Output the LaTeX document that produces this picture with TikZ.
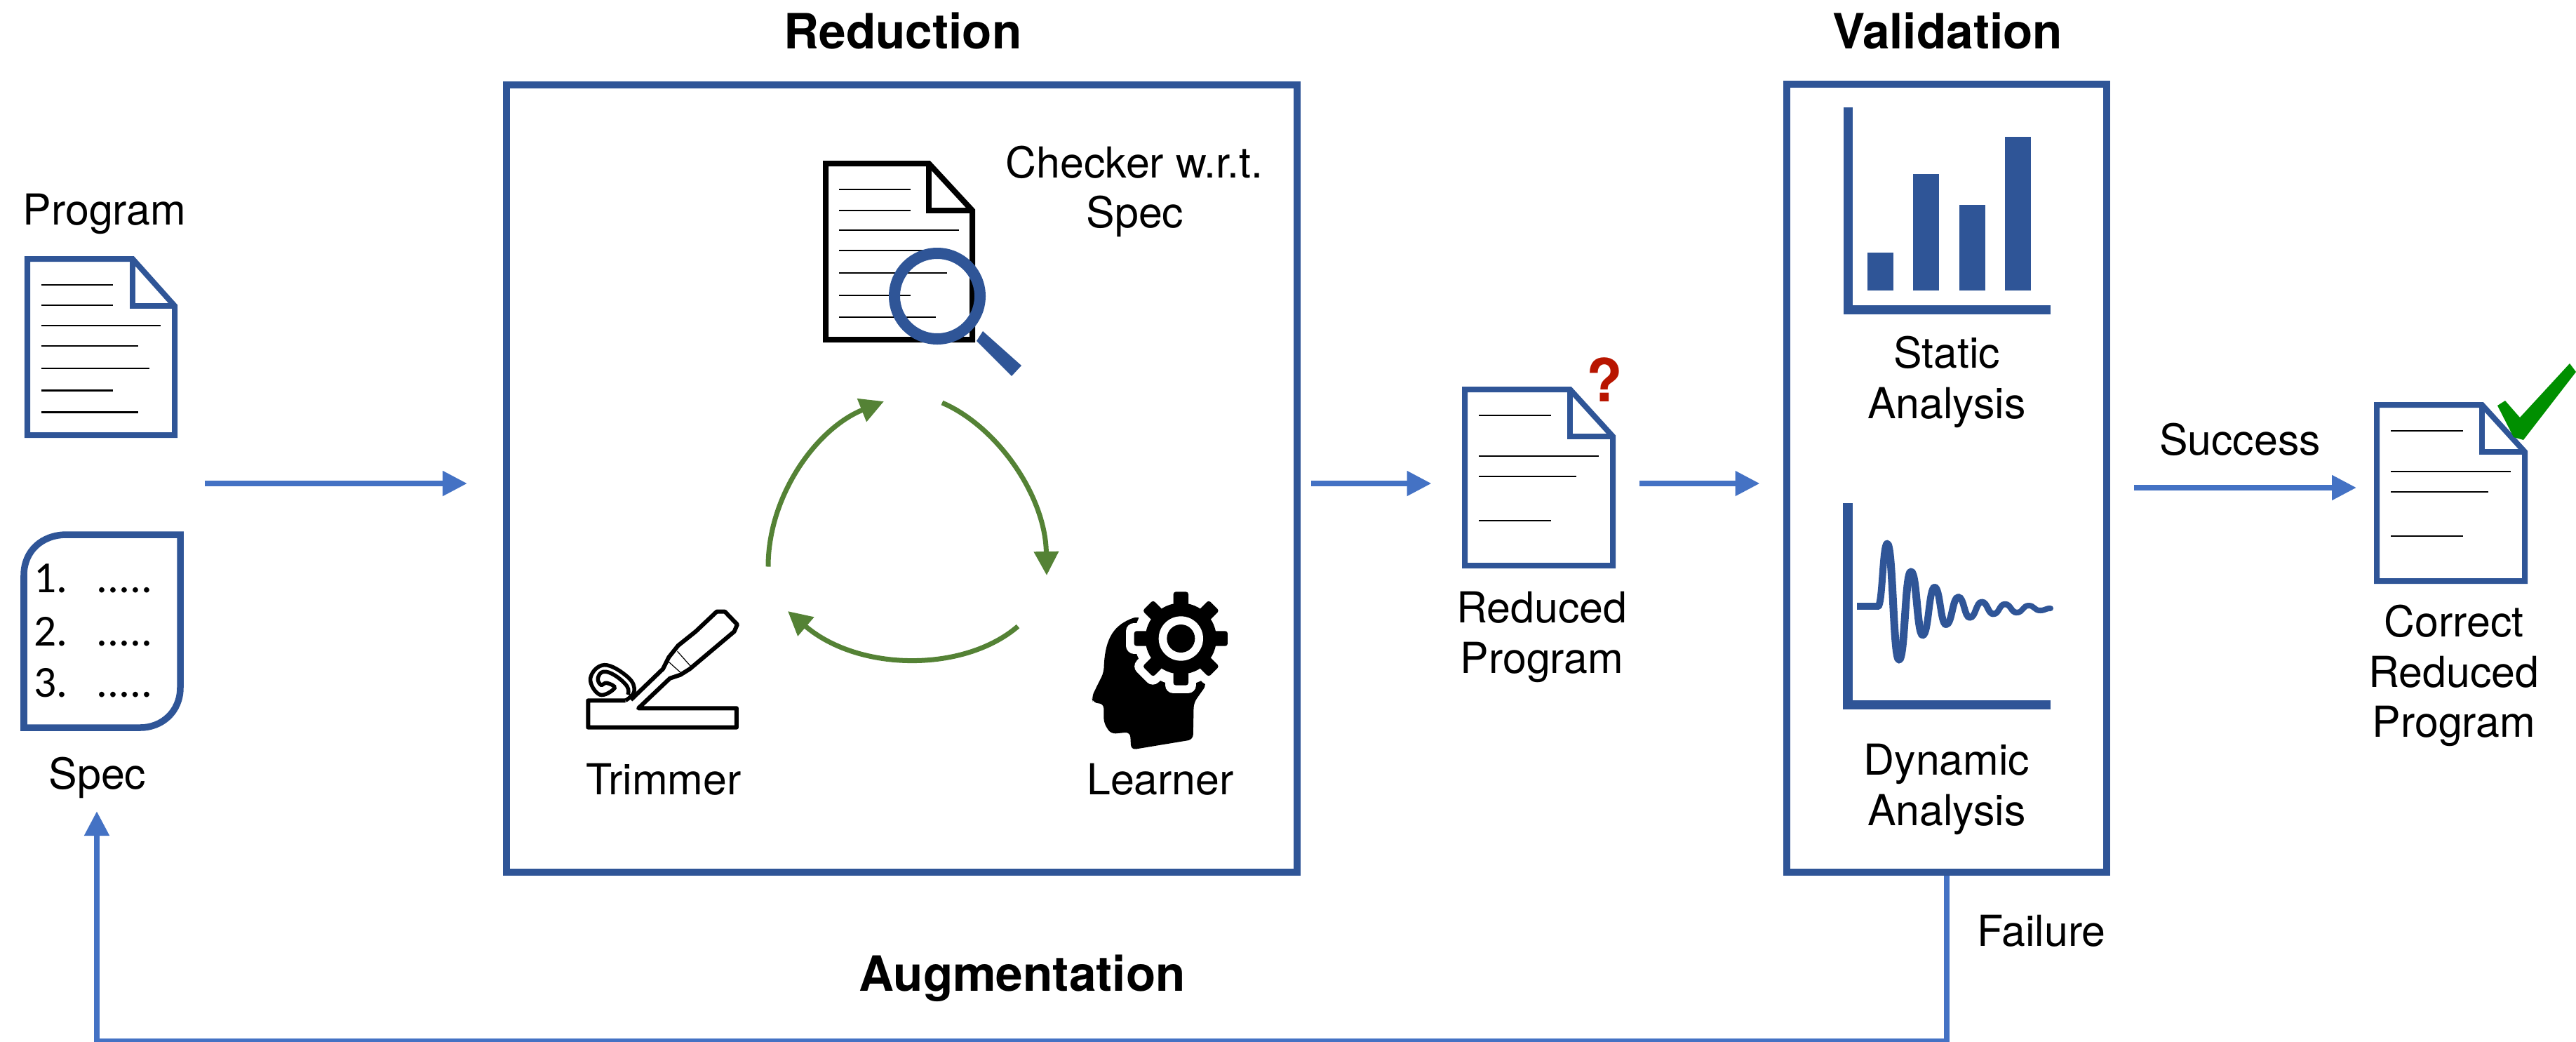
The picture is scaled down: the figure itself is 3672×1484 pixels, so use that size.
\documentclass[tikz,border=0pt]{standalone}
\usepackage{fontspec}
\setmainfont{TeX Gyre Heros}
\newfontfamily\listfont{Carlito}
\usetikzlibrary{arrows.meta}
\definecolor{docblue}{HTML}{2F5597}
\definecolor{flowblue}{HTML}{4472C4}
\definecolor{loopgreen}{HTML}{548235}
\definecolor{checkgreen}{HTML}{008F00}
\definecolor{askred}{HTML}{B81500}
\tikzset{
  label/.style={anchor=base,align=center,inner sep=0pt,yshift=-.02cm,font=\fontsize{17.3}{20.4}\selectfont},
  title/.style={anchor=base,inner sep=0pt,font=\fontsize{19.7}{23}\selectfont\bfseries},
  framebox/.style={draw=docblue,line width=.1cm,inner sep=0pt},
  flow/.style={flowblue,line width=.08cm,-{Triangle[length=.35cm,width=.34cm]}},
  loop/.style={loopgreen,line width=.07cm,-{Triangle[length=.34cm,width=.34cm]}},
  textline/.style={black,line width=.022cm},
  listitem/.style={anchor=base west,inner sep=0pt,font=\listfont\fontsize{18}{20}\selectfont},
}
% page with folded corner: colour, left, top, right, bottom, fold x, fold y
\newcommand{\docpage}[7]{
  \draw[#1,line width=.08cm] (#2,#3) -- (#6,#3) -- (#4,#7) -- (#4,#5) -- (#2,#5) -- cycle;
  \draw[#1,line width=.08cm] (#6,#3) -- (#6,#7) -- (#4,#7);
}
\begin{document}
\begin{tikzpicture}[x=.01cm,y=-.01cm]
\useasboundingbox (0,0) rectangle (3672,1484);

% inputs
\node[label] (program) at (149,318) {Program};
\docpage{docblue}{39}{369}{249}{620}{189}{436}
\foreach \yy/\xx in {406/161,435/161,464/229,493/197,525/213,556.5/161,587.5/197}
  \draw[textline] (58.5,\yy) -- (\xx,\yy);
\draw[docblue,line width=.095cm] (34,1037) -- (34,820) .. controls (34,785) and (60,762) .. (95,762) -- (257,762) -- (257,980) .. controls (257,1015) and (230,1037) .. (200,1037) -- cycle;
\foreach \i/\yy in {1/844,2/920.5,3/993} {
  \node[listitem] (num\i) at (48,\yy) {\i.};
  \node[listitem] (dots\i) at (137,\yy) {.....};
}
\node[label] (spec) at (139,1122.5) {Spec};
\coordinate (inputstart) at (291.5,689);
\coordinate (inputend) at (666,689);
\draw[flow] (inputstart) -- (inputend);

% reduction
\node[title] (reductiontitle) at (1287,69) {Reduction};
\node[framebox,minimum width=11.27cm,minimum height=11.22cm] (reduction) at (1285.5,682) {};
\docpage{black}{1177}{233}{1386}{484}{1324}{300}
\foreach \yy/\xx in {270/1298,300/1298,328/1367,357/1320,389/1350,421/1298,452/1334}
  \draw[textline] (1196,\yy) -- (\xx,\yy);
\draw[docblue,line width=.16cm] (1336,422) circle (61);
\fill[docblue] (1401,472) -- (1456,521) -- (1442,536) -- (1392,486) -- cycle;
\node[label] (checker) at (1617,251) {Checker w.r.t.};
\node[label] (checkerspec) at (1618,322) {Spec};
\coordinate (loopa) at (1095,807.5);
\coordinate (loopb) at (1260,572);
\coordinate (loopc) at (1343,574);
\coordinate (loopd) at (1492,820);
\coordinate (loope) at (1451,892.6);
\coordinate (loopf) at (1123,871);
\draw[loop] (loopa) .. controls (1095,705) and (1165,610) .. (loopb);
\draw[loop] (loopc) .. controls (1420,607) and (1490,705) .. (loopd);
\draw[loop] (loope) .. controls (1375,958) and (1225,958) .. (loopf);

% trimmer icon
\begin{scope}[shift={(820,850)},scale=.3333]
\draw[black,line width=.06cm,line join=round] (215,445) -- (55,445) -- (55,560) -- (690,560) -- (690,478) -- (270,478) -- (405,350) -- (450,335) -- (490,310) -- (680,150) -- (693,120) -- (640,65) -- (605,65) -- (515,150) -- (440,210) -- (400,260) -- (375,310) -- (238,442);
\draw[black,line width=.055cm] plot[smooth,tension=.7] coordinates {(215,445) (252,405) (225,345) (125,293) (65,350) (105,420) (168,392) (135,370) (110,378) (97,350) (120,322) (170,338) (222,385) (225,420)};
\draw[black,line width=.012cm] (437,235) -- (495,300) (400,280) -- (450,325);
\end{scope}
\node[label] (trimmer) at (946,1130) {Trimmer};

% learner icon
\begin{scope}[shift={(1540,830)},scale=.3333]
\fill[black,rounded corners=2pt] (245,145) .. controls (150,180) and (105,230) .. (100,385) -- (48,490) -- (55,516) -- (100,518) -- (100,600) -- (130,648) -- (213,640) -- (217,716) -- (482,672) -- (485,515) -- (540,437) -- (430,240) -- cycle;
\foreach \aa in {0,45,...,315}
  \draw[white,line width=.23cm,line join=round,fill=white,rotate around={\aa:(430,240)}] (400,100) -- (400,40) -- (462,40) -- (462,100) -- cycle;
\fill[white] (430,240) circle (200);
\foreach \aa in {0,45,...,315}
  \fill[black,rounded corners=1pt,rotate around={\aa:(430,240)}] (398,100) -- (398,40) -- (462,40) -- (462,100) -- cycle;
\fill[black] (430,240) circle (152);
\fill[white] (430,240) circle (95);
\fill[black] (430,240) circle (60);
\end{scope}
\node[label] (learner) at (1654,1130) {Learner};

% reduced program
\docpage{docblue}{2088}{555}{2299}{806}{2238}{622}
\foreach \yy/\xx in {592/2211,650/2279,679/2247,742/2211}
  \draw[textline] (2108,\yy) -- (\xx,\yy);
\node[anchor=base,inner sep=0pt,text=askred,font=\fontsize{24}{26}\selectfont\bfseries] (askmark) at (2287,572) {?};
\node[label] (reducedone) at (2198,885) {Reduced};
\node[label] (reducedtwo) at (2198,957) {Program};
\coordinate (reducedstart) at (1869,689);
\coordinate (reducedend) at (2040.5,689);
\coordinate (validatestart) at (2337,689);
\coordinate (validateend) at (2508.5,689);
\draw[flow] (reducedstart) -- (reducedend);
\draw[flow] (validatestart) -- (validateend);

% validation
\node[title] (validationtitle) at (2776,69) {Validation};
\node[framebox,minimum width=4.56cm,minimum height=11.225cm] (validation) at (2775,681.75) {};
\fill[docblue] (2628,153) rectangle (2641,448);
\fill[docblue] (2628,434.5) rectangle (2923,448);
\foreach \xx/\yy in {2662/360,2727/248,2793/292,2858/194.5}
  \fill[docblue] (\xx,413.5) rectangle (\xx+37,\yy);
\node[label] (staticone) at (2775,522) {Static};
\node[label] (statictwo) at (2775,594.5) {Analysis};
\fill[docblue] (2627,717) rectangle (2640.5,1010.5);
\fill[docblue] (2627,998) rectangle (2923,1010.5);
\draw[docblue,line width=.1cm] (2647,863.6) -- (2679,863.6);
\foreach \xa/\ya/\xb/\yb/\ww in {2677/864/2690/775/.1,2690/775/2707/940/.11,2707/940/2724/815/.11,2724/815/2741/905/.11,2741/905/2757.7/837/.1,2757.7/837/2774/890/.1,2774/890/2791.7/851/.1,2791.7/851/2808/880/.095,2808/880/2825/858/.09,2825/858/2841.7/875/.09,2841.7/875/2858/861/.085,2858/861/2875/873/.085,2875/873/2891.7/863/.08,2891.7/863/2908/870/.08,2908/870/2923/867/.08}
  \draw[docblue,line width=\ww cm,line cap=round] (\xa,\ya) .. controls ({(\xa+\xb)/2},\ya) and ({(\xa+\xb)/2},\yb) .. (\xb,\yb);
\node[label] (dynamicone) at (2775,1102) {Dynamic};
\node[label] (dynamictwo) at (2775,1174) {Analysis};

% success
\node[label] (success) at (3193,646) {Success};
\coordinate (successstart) at (3042,695);
\coordinate (successend) at (3359,695);
\draw[flow] (successstart) -- (successend);
\docpage{docblue}{3388}{577}{3599}{828}{3538}{644}
\foreach \yy/\xx in {614/3511,672/3579,701/3547,764/3511}
  \draw[textline] (3408,\yy) -- (\xx,\yy);
\fill[checkgreen] (3560,578) -- (3571,571) -- (3592,595) -- (3663,518) -- (3672,530) -- (3597,627) -- (3583,623) -- cycle;
\node[label] (correctone) at (3498,905) {Correct};
\node[label] (correcttwo) at (3498,977) {Reduced};
\node[label] (correctthree) at (3498,1048) {Program};

% failure
\node[label] (failure) at (2910,1346) {Failure};
\node[title] (augmentation) at (1457,1412) {Augmentation};
\coordinate (buscorner) at (138,1484);
\coordinate (busend) at (138,1156);
\draw[flow] (validation.south) |- (buscorner) -- (busend);
\end{tikzpicture}
\end{document}
